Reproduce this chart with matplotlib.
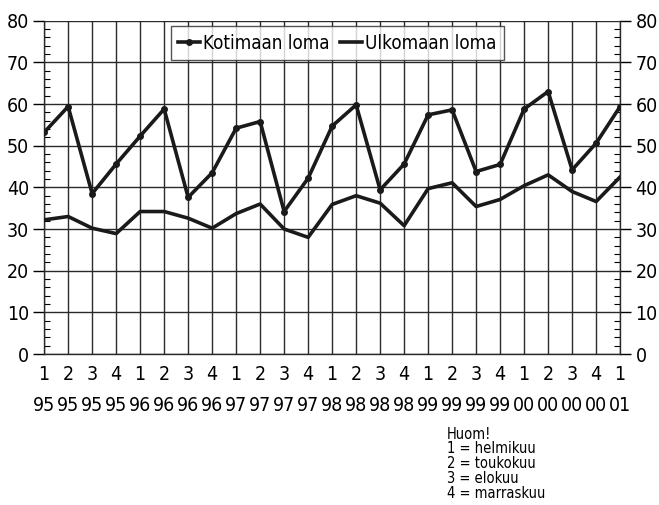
import matplotlib.pyplot as plt
from matplotlib.ticker import MultipleLocator

plt.rcParams['font.family'] = ['DejaVu Sans']
plt.rcParams['font.stretch'] = 'condensed'

quarters = ['1', '2', '3', '4'] * 6 + ['1']
years = ['95'] * 4 + ['96'] * 4 + ['97'] * 4 + ['98'] * 4 + ['99'] * 4 + ['00'] * 4 + ['01']

kotimaan = [53.2, 59.4, 38.5, 45.6, 52.3, 58.8, 37.6, 43.5, 54.2, 55.8, 34.2, 42.2,
            54.7, 59.8, 39.4, 45.6, 57.4, 58.6, 43.8, 45.5, 58.8, 63.0, 44.2, 50.6, 59.4]
ulkomaan = [32.2, 33.0, 30.2, 28.9, 34.2, 34.2, 32.6, 30.2, 33.7, 36.0, 30.0, 28.0,
            35.9, 38.0, 36.2, 30.8, 39.7, 41.1, 35.4, 37.1, 40.4, 43.0, 39.0, 36.6, 42.5]

x = list(range(len(kotimaan)))

fig = plt.figure(figsize=(6.59, 5.05), dpi=100)
ax = fig.add_axes([0.067, 0.299, 0.874, 0.66])

ax.plot(x, kotimaan, color='#1a1a1a', lw=2.6, marker='o', ms=4, label='Kotimaan loma', zorder=3)
ax.plot(x, ulkomaan, color='#1a1a1a', lw=2.6, label='Ulkomaan loma', zorder=3)

ax.set_xlim(0, 24)
ax.set_ylim(0, 80)
ax.set_xticks(x)
ax.set_xticklabels([q + '\n' + y for q, y in zip(quarters, years)], fontsize=14, linespacing=1.8)
ax.yaxis.set_major_locator(MultipleLocator(10))
ax.yaxis.set_minor_locator(MultipleLocator(2))
ax.tick_params(axis='x', length=0, pad=8)
ax.tick_params(axis='y', which='major', direction='out', length=8, width=1, labelsize=14,
               left=True, right=True, labelleft=True, labelright=True, pad=3)
ax.tick_params(axis='y', which='minor', direction='in', length=4, width=0.8, left=True, right=True)
ax.grid(True, which='major', color='#2a2a2a', lw=1)
for s in ax.spines.values():
    s.set_color('#2a2a2a')
    s.set_linewidth(1)
ax.spines['top'].set_visible(False)

leg = ax.legend(loc='upper left', bbox_to_anchor=(0.21, 1.0), ncol=2, fontsize=13.5, frameon=True,
                fancybox=False, edgecolor='#2a2a2a', handlelength=1.15, handletextpad=0.15,
                columnspacing=0.6, borderpad=0.4, borderaxespad=0.3)
leg.get_frame().set_linewidth(1)

fig.text(0.678, 0.155, 'Huom!\n1 = helmikuu\n2 = toukokuu\n3 = elokuu\n4 = marraskuu',
         fontsize=10.5, va='top', ha='left', linespacing=0.98)

plt.savefig('out.png', dpi=100)
